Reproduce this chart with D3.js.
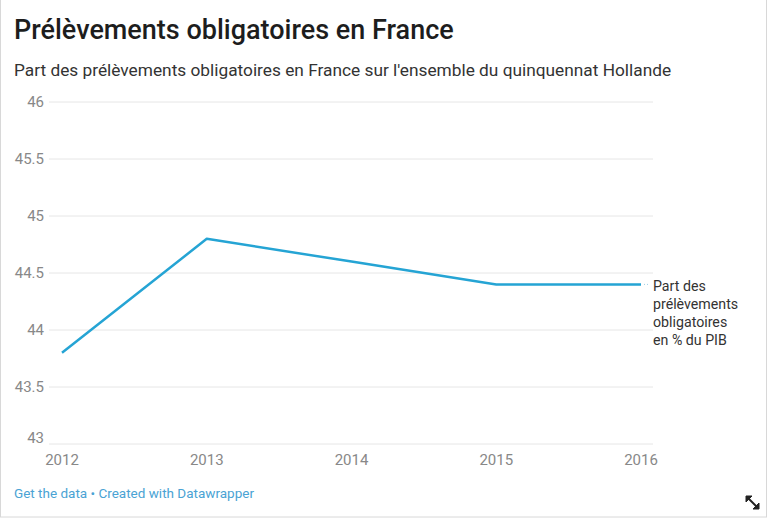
<!DOCTYPE html>
<html lang="fr">
<head>
    <meta charset="utf-8">
    <title>Prélèvements obligatoires en France</title>
    <script src="https://d3js.org/d3.v7.min.js"></script>
    <style>
        body { margin: 0; background: #fff; font-family: Roboto, sans-serif; }
        #chart { position: relative; width: 768px; height: 520px; }
    </style>
</head>
<body>
<div id="chart"></div>
<script>
    // data
    var years = [2012, 2013, 2014, 2015, 2016];
    var values = [43.8, 44.8, 44.6, 44.4, 44.4];
    var yTicks = [43, 43.5, 44, 44.5, 45, 45.5, 46];
    var seriesLabel = ["Part des", "prélèvements", "obligatoires", "en % du PIB"];

    var svg = d3.select("#chart").append("svg")
        .attr("width", 768)
        .attr("height", 520);

    // outer frame
    svg.append("rect")
        .attr("x", 0.5).attr("y", -1)
        .attr("width", 766).attr("height", 518)
        .attr("fill", "none")
        .attr("stroke", "#d8d8d8");

    svg.append("text")
        .attr("x", 14).attr("y", 39)
        .style("font-size", "27px")
        .style("font-weight", 500)
        .style("fill", "#1d1d1d")
        .text("Prélèvements obligatoires en France");

    svg.append("text")
        .attr("x", 14).attr("y", 76)
        .style("font-size", "17.3px")
        .style("fill", "#333")
        .text("Part des prélèvements obligatoires en France sur l'ensemble du quinquennat Hollande");

    // scales
    var x = d3.scalePoint().domain(years).range([62, 641]);
    var y = d3.scaleLinear().domain([43, 46]).range([444, 102]);

    // grid
    svg.selectAll(".grid")
        .data(yTicks)
        .enter().append("line")
        .attr("x1", 49).attr("x2", 653)
        .attr("y1", function (d) { return y(d); })
        .attr("y2", function (d) { return y(d); })
        .attr("stroke", "#e6e6e6")
        .attr("stroke-width", 1);

    // y labels
    svg.selectAll(".ylab")
        .data(yTicks)
        .enter().append("text")
        .attr("x", 44)
        .attr("y", function (d) { return y(d) + (d === 43 ? -1 : 5); })
        .attr("text-anchor", "end")
        .style("font-size", "15px")
        .style("fill", "#888")
        .text(function (d) { return d; });

    // x labels
    svg.selectAll(".xlab")
        .data(years)
        .enter().append("text")
        .attr("x", function (d) { return x(d); })
        .attr("y", 465)
        .attr("text-anchor", "middle")
        .style("font-size", "15px")
        .style("fill", "#888")
        .text(function (d) { return d; });

    // the line
    var line = d3.line()
        .x(function (d, i) { return x(years[i]); })
        .y(function (d) { return y(d); });

    svg.append("path")
        .datum(values)
        .attr("d", line)
        .attr("fill", "none")
        .attr("stroke", "#25a4d4")
        .attr("stroke-width", 2.5)
        .attr("stroke-linejoin", "round");

    // connector + series label
    var last = values[values.length - 1];
    svg.append("line")
        .attr("x1", x(years[years.length - 1]) + 3)
        .attr("x2", x(years[years.length - 1]) + 9)
        .attr("y1", y(last)).attr("y2", y(last))
        .attr("stroke", "#9ccfe6")
        .attr("stroke-dasharray", "1,2");

    svg.append("text")
        .attr("x", 653)
        .attr("y", y(last) + 7)
        .style("font-size", "14.2px")
        .style("fill", "#333")
        .selectAll("tspan")
        .data(seriesLabel)
        .enter().append("tspan")
        .attr("x", 653)
        .attr("dy", function (d, i) { return i === 0 ? 0 : 18; })
        .text(function (d) { return d; });

    // footer
    svg.append("text")
        .attr("x", 14).attr("y", 498)
        .style("font-size", "13.5px")
        .style("fill", "#4aa3d4")
        .text("Get the data • Created with Datawrapper");

    // resize icon
    var g = svg.append("g").attr("stroke", "#222").attr("stroke-width", 2).attr("fill", "#222");
    g.append("line").attr("x1", 748).attr("y1", 498).attr("x2", 757).attr("y2", 507);
    g.append("path").attr("d", "M746,496 L752,496 L746,502 Z").attr("stroke-width", 1);
    g.append("path").attr("d", "M759,509 L753,509 L759,503 Z").attr("stroke-width", 1);
</script>
</body>
</html>
